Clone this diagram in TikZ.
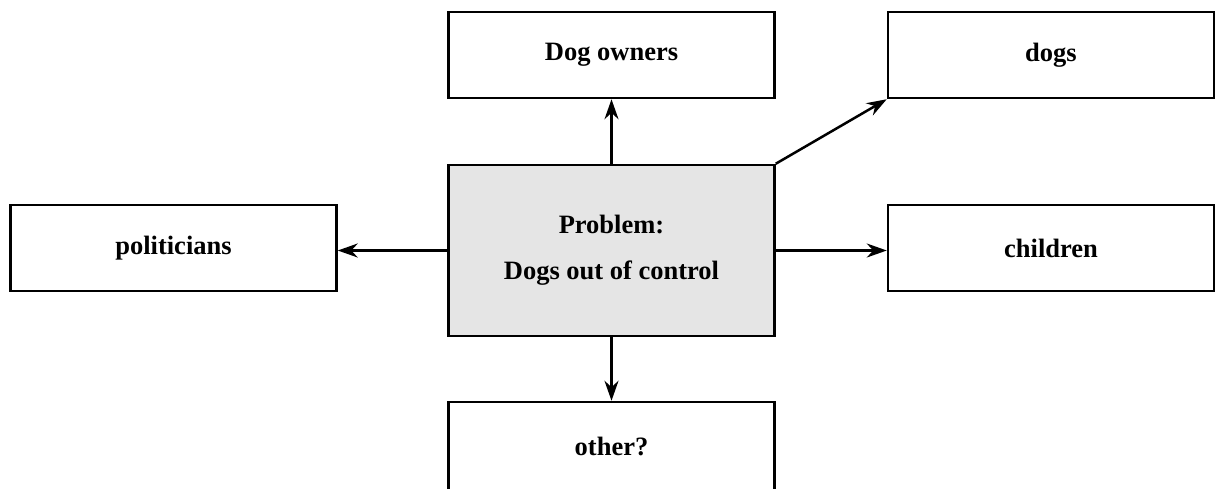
\documentclass[tikz,border=0pt]{standalone}
\usepackage{fontspec}
\setmainfont{Liberation Serif}
\usetikzlibrary{arrows.meta}
\begin{document}
\begin{tikzpicture}[x=1pt,y=-1pt,
  box/.style={draw=black,line width=2.5pt,minimum width=326pt,minimum height=86pt,inner sep=0pt,font=\fontsize{26.5}{46}\selectfont\bfseries,align=center},
  conn/.style={line width=2.5pt,-{Stealth[length=20pt,width=14pt]}}]
\useasboundingbox (0,0) rectangle (1215,488);
\begin{scope}
\clip (0,0) rectangle (1215,488);
\node[box,fill=black!10,minimum height=171pt] (prob) at (611.5,250.5) {Problem:\\Dogs out of control};
\node[box] (own) at (611.5,55) {\raisebox{-2pt}{Dog owners}};
\node[box] (dogs) at (1051,55) {\raisebox{-2pt}{dogs}};
\node[box] (pol) at (173.5,248) {politicians};
\node[box] (child) at (1051,248) {children};
\node[box,minimum height=92pt] (oth) at (611.5,448) {\raisebox{3pt}{other?}};
\draw[conn] (prob.north) -- (own.south);
\draw[conn] (prob.north east) -- (dogs.south west);
\draw[conn] (prob.west) -- (prob.west -| pol.east);
\draw[conn] (prob.east) -- (prob.east -| child.west);
\draw[conn] (prob.south) -- (oth.north);
\end{scope}
\end{tikzpicture}
\end{document}
